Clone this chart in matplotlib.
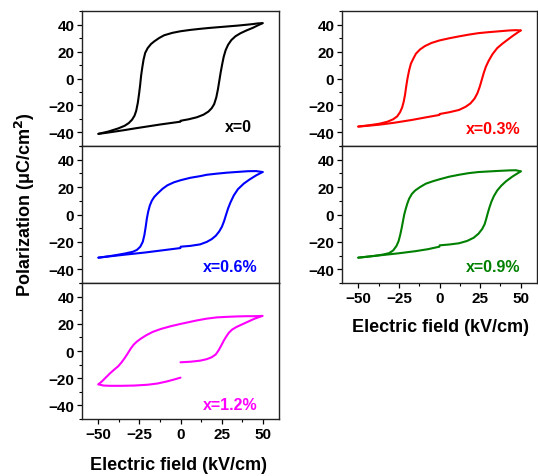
import matplotlib
matplotlib.use("Agg")
import matplotlib.pyplot as plt
from matplotlib.ticker import MultipleLocator

plt.rcParams['font.family'] = ['Liberation Sans', 'DejaVu Sans']
plt.rcParams['font.weight'] = 'bold'

# ---- data (E in kV/cm, P in uC/cm^2) ----
# x = 0 (black)
e0_up = [50, 47, 44, 40, 35, 30, 24, 18, 12, 6, 0, -5, -10, -13, -16, -18, -20, -21.5, -22.5, -23.3, -24, -24.6, -25.2, -26, -27, -28, -29.5, -31.5, -34, -38, -44, -50]
p0_up = [41, 40.8, 40.3, 39.8, 39.2, 38.7, 38.1, 37.5, 36.8, 36, 35, 33.8, 32, 30, 27.5, 25.5, 22.5, 19, 14, 8, 2, -5, -11, -18, -24, -27.5, -30.5, -33, -35, -37, -39.3, -41]
e0_lo = [-50, -45, -40, -34, -28, -20, -12, -6, -0.1, 0.1, 5, 10, 14, 17, 19, 20.5, 21.8, 22.8, 23.6, 24.4, 25.3, 26.3, 27.5, 29, 31, 33.5, 36.5, 40, 44, 47, 50]
p0_lo = [-41, -40.2, -39.3, -38.2, -37, -35.5, -34, -33, -32, -31.3, -30.2, -28.7, -26.8, -24.5, -22, -19, -14, -8, -2, 4, 10, 16, 21, 25, 28.5, 31.3, 33.5, 35.5, 37.5, 39.3, 41]

# x = 0.3% (red)
e3_up = [50, 47, 43, 37, 30, 24, 18, 12, 6, 0, -5, -9, -12, -14.5, -16.2, -17.6, -18.7, -19.7, -20.5, -21.2, -22, -23, -24.3, -26, -28.5, -32, -37, -43, -50]
p3_up = [35.6, 35.8, 35.6, 35, 34.3, 33.6, 32.5, 31.2, 29.8, 28.2, 26.3, 24, 21.5, 18.4, 14.5, 11, 6, 0, -6, -12, -17, -21.5, -25, -28, -30.2, -32, -33.5, -34.6, -35.6]
e3_lo = [-50, -44, -37, -28, -17, -8, -0.1, 0.1, 6, 12, 16, 19, 21.5, 23.3, 24.8, 26, 27.2, 28.5, 30.2, 32.6, 35.5, 38.7, 42, 45, 48, 50]
p3_lo = [-35.6, -35, -34.2, -32.8, -30.7, -28.7, -27, -26.3, -25, -23.3, -21, -18.5, -15, -11, -6, -1, 4, 8.6, 13, 18, 22.5, 25.8, 28.8, 31.5, 34, 35.6]

# x = 0.6% (blue)
e6_up = [50, 46, 41, 35, 28, 22, 16, 12, 6, 0, -4, -8, -11, -14, -16, -17.5, -18.7, -19.7, -20.5, -21.2, -22, -23, -24.5, -26.5, -29, -34, -40, -45, -50]
p6_up = [31, 31.7, 31.6, 31.1, 30.5, 29.8, 29, 28, 26.8, 25, 23.5, 21.3, 18.7, 15.3, 12.8, 10, 6.5, 2, -3, -9, -15, -20, -23.5, -25.8, -27.2, -28.5, -29.8, -30.7, -31.5]
e6_lo = [-50, -42, -33, -22, -12, -0.1, 0.1, 6, 12, 16, 19, 21.5, 23.5, 25.2, 26.5, 27.8, 29, 30.5, 32.5, 35, 38.5, 42, 46, 50]
p6_lo = [-31.5, -30.4, -29.2, -27.8, -26.3, -24.5, -23.5, -22.9, -21.8, -20, -18, -15.5, -12.5, -9, -5, 0, 4.5, 9, 14, 18.5, 22.5, 25.5, 28.5, 31]

# x = 0.9% (green)
e9_up = [50, 47, 43, 36, 30, 24, 18, 12, 6, 0, -4, -8.4, -12, -15, -17, -18.7, -19.8, -20.8, -21.7, -22.5, -23.3, -24.2, -25.2, -26.5, -28.5, -31, -35, -40, -45, -50]
p9_up = [31.5, 32.3, 32.2, 31.8, 31.4, 31, 30.2, 29, 27.6, 25.7, 24.3, 22.5, 20, 17.5, 15, 11.5, 8, 4, 0, -5, -10, -15, -19.5, -23, -26.2, -28.2, -29.3, -30.2, -30.9, -31.5]
e9_lo = [-50, -43, -35, -25, -15, -7, -0.1, 0.1, 6, 12, 17, 21, 24, 26.3, 27.8, 28.8, 29.7, 30.7, 32, 33.5, 35.5, 38, 41, 45, 48, 50]
p9_lo = [-31.5, -30.6, -29.6, -28.3, -26.8, -25.3, -23.5, -22.5, -21.9, -21, -19.3, -17, -14, -10.5, -7, -3, 1, 5, 9.5, 13.5, 17.5, 21, 24.3, 27.8, 30, 31.5]

# x = 1.2% (magenta)
e12_up = [0, 6, 12, 16, 19, 21.5, 23.2, 24.8, 26.3, 27.8, 29.5, 31.5, 34, 37, 41, 45, 48, 50,
          45, 40, 34, 28, 22, 16, 10, 5, 0, -6, -12, -17, -21, -24, -26.5, -28.5, -30.3, -32, -34, -36, -38, -40.5, -43, -45.5, -48, -50]
p12_up = [-8.3, -7.9, -7.1, -6, -4.6, -2.5, 0.5, 4, 7.5, 10.5, 13.5, 15.8, 17.6, 19.3, 21.5, 23.7, 25, 25.8,
          25.6, 25.6, 25.4, 25.1, 24.7, 23.8, 22.5, 21.2, 19.9, 18.2, 16.2, 14, 11.5, 9.2, 7, 4.7, 1.8, -1.5, -5.2, -8.5, -11.3, -13.8, -16.5, -19.5, -22.5, -24.5]
e12_lo = [-50, -47, -43, -36, -28, -20, -14, -8, -4, 0]
p12_lo = [-24.5, -25.4, -25.6, -25.6, -25.4, -24.8, -23.9, -22.3, -21, -19.6]

labels = ["x=0", "x=0.3%", "x=0.6%", "x=0.9%", "x=1.2%"]
xticks = [-50, -25, 0, 25, 50]
yticks = [-40, -20, 0, 20, 40]

W, H = 538, 477
fig = plt.figure(figsize=(W / 100, H / 100), dpi=100)


def make_ax(x0, x1, y0, y1):
    return fig.add_axes([x0 / W, 1 - y1 / H, (x1 - x0) / W, (y1 - y0) / H])


def style(ax, show_x):
    ax.set_xlim(-60, 60)
    ax.set_ylim(-50, 50)
    ax.set_xticks(xticks)
    ax.set_yticks(yticks)
    ax.xaxis.set_minor_locator(MultipleLocator(12.5))
    ax.yaxis.set_minor_locator(MultipleLocator(10))
    ax.tick_params(which='major', direction='out', length=3.5, width=0.9, labelsize=11, pad=2)
    ax.tick_params(which='minor', direction='out', length=2.5, width=0.8)
    if not show_x:
        ax.tick_params(axis='x', labelbottom=False)
    for lab in ax.get_xticklabels() + ax.get_yticklabels():
        lab.set_fontweight('bold')
    for s in ax.spines.values():
        s.set_linewidth(1.0)
        s.set_color('#222222')


panels = [
    (make_ax(82, 279, 12, 147), e0_up, p0_up, e0_lo, p0_lo, 'black', labels[0], 0.863, 0.148, False),
    (make_ax(82, 279, 147, 284), e6_up, p6_up, e6_lo, p6_lo, '#0000ff', labels[2], 0.893, 0.124, False),
    (make_ax(82, 279, 284, 420), e12_up, p12_up, e12_lo, p12_lo, '#ff00ff', labels[4], 0.893, 0.103, True),
    (make_ax(342, 537, 12, 147), e3_up, p3_up, e3_lo, p3_lo, '#ff0000', labels[1], 0.913, 0.133, False),
    (make_ax(342, 537, 147, 284), e9_up, p9_up, e9_lo, p9_lo, '#008000', labels[3], 0.913, 0.124, True),
]

for ax, eu, pu, el, pl, col, lab, tx, ty, showx in panels:
    ax.plot(eu, pu, color=col, lw=1.5, solid_joinstyle='round', solid_capstyle='round')
    ax.plot(el, pl, color=col, lw=1.5, solid_joinstyle='round', solid_capstyle='round')
    ax.text(tx, ty, lab, transform=ax.transAxes, ha='right', va='center',
            color=col, fontsize=11.5, fontweight='bold')
    style(ax, showx)

fig.text(179 / W, 1 - 466 / H, "Electric field (kV/cm)", ha='center', va='center',
         fontsize=13, fontweight='bold')
fig.text(440 / W, 1 - 328 / H, "Electric field (kV/cm)", ha='center', va='center',
         fontsize=13, fontweight='bold')
fig.text(25 / W, 1 - 205 / H, "Polarization (\u03bcC/cm$^\\mathbf{2}$)", ha='center', va='center',
         rotation=90, fontsize=13, fontweight='bold')

fig.savefig("out.png", dpi=100)
